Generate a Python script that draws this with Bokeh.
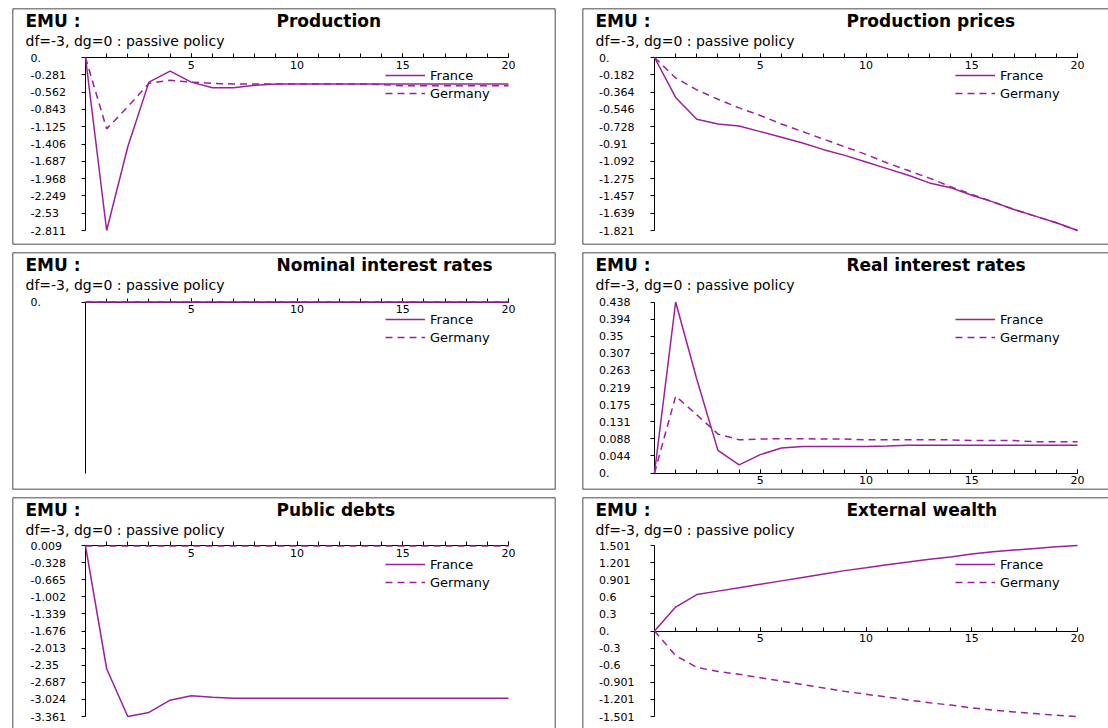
from bokeh.plotting import figure
from bokeh.models import Range1d, LinearAxis, FixedTicker, Label, Span, Legend, LegendItem
from bokeh.core.properties import value
from bokeh.layouts import column, row
from bokeh.embed import file_html
from bokeh.resources import INLINE

# ---------------- data ----------------
periods = [0, 1, 2, 3, 4, 5, 6, 7, 8, 9, 10, 11, 12, 13, 14, 15, 16, 17, 18, 19, 20]
x_tick_labels = ["5", "10", "15", "20"]
series_names = ["France", "Germany"]
header_text = "EMU :"
subtitle_text = "df=-3, dg=0 : passive policy"

production_title = "Production"
production_yticks = ["0.", "-0.281", "-0.562", "-0.843", "-1.125", "-1.406", "-1.687", "-1.968", "-2.249", "-2.53", "-2.811"]
production_france = [0.0, -2.811, -1.45, -0.40, -0.22, -0.40, -0.49, -0.49, -0.45, -0.43, -0.43,
                     -0.43, -0.43, -0.43, -0.43, -0.43, -0.43, -0.43, -0.43, -0.43, -0.43]
production_germany = [0.0, -1.16, -0.80, -0.42, -0.37, -0.40, -0.42, -0.43, -0.43, -0.43, -0.43,
                      -0.43, -0.43, -0.43, -0.44, -0.46, -0.46, -0.46, -0.46, -0.46, -0.46]

prices_title = "Production prices"
prices_yticks = ["0.", "-0.182", "-0.364", "-0.546", "-0.728", "-0.91", "-1.092", "-1.275", "-1.457", "-1.639", "-1.821"]
prices_france = [0.0, -0.42, -0.65, -0.70, -0.72, -0.78, -0.84, -0.90, -0.97, -1.03, -1.10,
                 -1.17, -1.24, -1.32, -1.37, -1.45, -1.52, -1.60, -1.67, -1.74, -1.821]
prices_germany = [0.0, -0.215, -0.34, -0.44, -0.53, -0.61, -0.70, -0.78, -0.86, -0.94, -1.02,
                  -1.11, -1.19, -1.27, -1.36, -1.44, -1.52, -1.60, -1.67, -1.74, -1.821]

nominal_title = "Nominal interest rates"
nominal_yticks = ["0."]
nominal_france = [0.0, 0.0, 0.0, 0.0, 0.0, 0.0, 0.0, 0.0, 0.0, 0.0, 0.0,
                  0.0, 0.0, 0.0, 0.0, 0.0, 0.0, 0.0, 0.0, 0.0, 0.0]
nominal_germany = [0.0, 0.0, 0.0, 0.0, 0.0, 0.0, 0.0, 0.0, 0.0, 0.0, 0.0,
                   0.0, 0.0, 0.0, 0.0, 0.0, 0.0, 0.0, 0.0, 0.0, 0.0]

real_title = "Real interest rates"
real_yticks = ["0.438", "0.394", "0.35", "0.307", "0.263", "0.219", "0.175", "0.131", "0.088", "0.044", "0."]
real_france = [0.0, 0.438, 0.24, 0.058, 0.021, 0.047, 0.064, 0.068, 0.068, 0.068, 0.068,
               0.069, 0.071, 0.071, 0.071, 0.071, 0.071, 0.071, 0.071, 0.071, 0.071]
real_germany = [0.0, 0.197, 0.149, 0.100, 0.085, 0.087, 0.088, 0.088, 0.087, 0.087, 0.085,
                0.085, 0.085, 0.085, 0.085, 0.083, 0.083, 0.083, 0.080, 0.080, 0.080]

debt_title = "Public debts"
debt_yticks = ["0.009", "-0.328", "-0.665", "-1.002", "-1.339", "-1.676", "-2.013", "-2.35", "-2.687", "-3.024", "-3.361"]
debt_france = [0.0, -2.42, -3.361, -3.28, -3.04, -2.95, -2.98, -3.00, -3.00, -3.00, -3.00,
               -3.00, -3.00, -3.00, -3.00, -3.00, -3.00, -3.00, -3.00, -3.00, -3.00]
debt_germany = [0.0, 0.0, 0.0, 0.0, 0.0, 0.0, 0.0, 0.0, 0.0, 0.0, 0.0,
                0.0, 0.0, 0.0, 0.0, 0.0, 0.0, 0.0, 0.0, 0.0, 0.0]

wealth_title = "External wealth"
wealth_yticks = ["1.501", "1.201", "0.901", "0.6", "0.3", "0.", "-0.3", "-0.6", "-0.901", "-1.201", "-1.501"]
wealth_france = [0.0, 0.42, 0.64, 0.70, 0.76, 0.82, 0.88, 0.94, 1.00, 1.06, 1.11,
                 1.165, 1.21, 1.26, 1.30, 1.35, 1.39, 1.42, 1.45, 1.48, 1.501]
wealth_germany = [0.0, -0.43, -0.64, -0.71, -0.76, -0.82, -0.88, -0.94, -1.00, -1.06, -1.11,
                  -1.16, -1.21, -1.26, -1.30, -1.35, -1.39, -1.42, -1.45, -1.48, -1.501]

# ---------------- style / layout ----------------
FONT = "DejaVu Sans"
COLOR = "#9c1f9c"
BOX_COLOR = "#111111"

FIG_W = [570, 538]
FIG_H = [251, 245, 232]
BORDER_L = 12
BORDER_R = [15, 0]
BORDER_T = [8, 1, 1]
BORDER_B = [7, 7, 0]
X0_OFF = [73, 72]
X20_OFF = [496, 495]
YLAB_OFF = [18, 16.5]
TOP_OFF = [49, 49.5, 48]
BOT_OFF = [222, 220.5, 219]
LEG_X, LEG_TOP, LEG_ROW = 373, 58, 18


def make_panel(title, ytick_labels, france, germany, col, rw):
    fw = FIG_W[col] - BORDER_L - BORDER_R[col]
    fh = FIG_H[rw] - BORDER_T[rw] - BORDER_B[rw]
    yvals = [float(s) for s in ytick_labels]
    ymax, ymin = max(yvals), min(yvals)
    if ymax == ymin:
        ymin = ymax - 1.0
    ppx = (X20_OFF[col] - X0_OFF[col]) / (periods[-1] - periods[0])
    ppy = (BOT_OFF[rw] - TOP_OFF[rw]) / (ymax - ymin)
    xs = periods[0] - X0_OFF[col] / ppx
    xe = xs + fw / ppx
    ye = ymax + TOP_OFF[rw] / ppy
    ys = ye - fh / ppy

    def dx(off):
        return xs + off / ppx

    def dy(off):
        return ye - off / ppy

    p = figure(width=FIG_W[col], height=FIG_H[rw], x_range=Range1d(xs, xe), y_range=Range1d(ys, ye),
               output_backend="svg", toolbar_location=None, title=None,
               x_axis_location=None, y_axis_location=None,
               min_border_left=BORDER_L, min_border_right=BORDER_R[col],
               min_border_top=BORDER_T[rw], min_border_bottom=BORDER_B[rw])
    p.grid.visible = False
    p.outline_line_color = None
    p.background_fill_color = "white"
    p.border_fill_color = "white"

    # box edges
    p.add_layout(Span(location=xs, dimension="height", line_color=BOX_COLOR, line_width=1.5))
    p.add_layout(Span(location=ye, dimension="width", line_color=BOX_COLOR, line_width=1.5))
    if col == 0:
        p.add_layout(Span(location=xe, dimension="height", line_color=BOX_COLOR, line_width=1.5))
    if rw < 2:
        p.add_layout(Span(location=ys, dimension="width", line_color=BOX_COLOR, line_width=1.5))

    # axes (crossing at zero, as in the original)
    xa = LinearAxis(fixed_location=0, bounds=(periods[0], periods[-1]),
                    ticker=FixedTicker(ticks=[float(s) for s in x_tick_labels], minor_ticks=periods[1:]),
                    major_tick_in=4, major_tick_out=0, minor_tick_in=4, minor_tick_out=0,
                    axis_line_color="black", major_tick_line_color="black", minor_tick_line_color="black",
                    major_label_text_font=FONT, major_label_text_font_size="11px",
                    major_label_text_color="black", major_label_standoff=3)
    p.add_layout(xa, "below")
    ya = LinearAxis(fixed_location=0, bounds=(ymin, ymax),
                    ticker=FixedTicker(ticks=yvals),
                    major_label_overrides={v: "" for v in yvals},
                    major_tick_in=0, major_tick_out=4, minor_tick_in=0, minor_tick_out=0,
                    axis_line_color="black", major_tick_line_color="black",
                    major_label_text_font_size="11px")
    p.add_layout(ya, "left")
    # left-aligned y tick labels, placed at the tick values
    p.text(x=[dx(YLAB_OFF[col])] * len(yvals), y=yvals, text=ytick_labels,
           text_font=value(FONT), text_font_size="11px", text_align="left",
           text_baseline="middle", text_color="black")

    # series
    r1 = p.line(periods, france, line_color=COLOR, line_width=1.5, level="overlay")
    r2 = p.line(periods, germany, line_color=COLOR, line_width=1.5, line_dash="7 5", level="overlay")

    legend = Legend(items=[LegendItem(label=series_names[0], renderers=[r1]),
                           LegendItem(label=series_names[1], renderers=[r2])],
                    location=(LEG_X, fh - LEG_TOP - 2 * LEG_ROW),
                    glyph_width=40, glyph_height=LEG_ROW, label_height=LEG_ROW,
                    label_standoff=5, spacing=0, padding=0, margin=0,
                    border_line_color=None, background_fill_alpha=0,
                    label_text_font=FONT, label_text_font_size="13px", label_text_color="black")
    p.add_layout(legend)

    # texts
    p.add_layout(Label(x=dx(13), y=dy(12), text=header_text, text_font=FONT, text_font_style="bold",
                       text_font_size="17px", text_baseline="middle", text_align="left", text_color="black"))
    p.add_layout(Label(x=dx(264), y=dy(12), text=title, text_font=FONT, text_font_style="bold",
                       text_font_size="17px", text_baseline="middle", text_align="left", text_color="black"))
    p.add_layout(Label(x=dx(13), y=dy(32), text=subtitle_text, text_font=FONT,
                       text_font_size="14px", text_baseline="middle", text_align="left", text_color="black"))
    return p


p1 = make_panel(production_title, production_yticks, production_france, production_germany, 0, 0)
p2 = make_panel(prices_title, prices_yticks, prices_france, prices_germany, 1, 0)
p3 = make_panel(nominal_title, nominal_yticks, nominal_france, nominal_germany, 0, 1)
p4 = make_panel(real_title, real_yticks, real_france, real_germany, 1, 1)
p5 = make_panel(debt_title, debt_yticks, debt_france, debt_germany, 0, 2)
p6 = make_panel(wealth_title, wealth_yticks, wealth_france, wealth_germany, 1, 2)

layout = column(row(p1, p2), row(p3, p4), row(p5, p6))

open("out.html", "w").write(file_html(layout, INLINE))
